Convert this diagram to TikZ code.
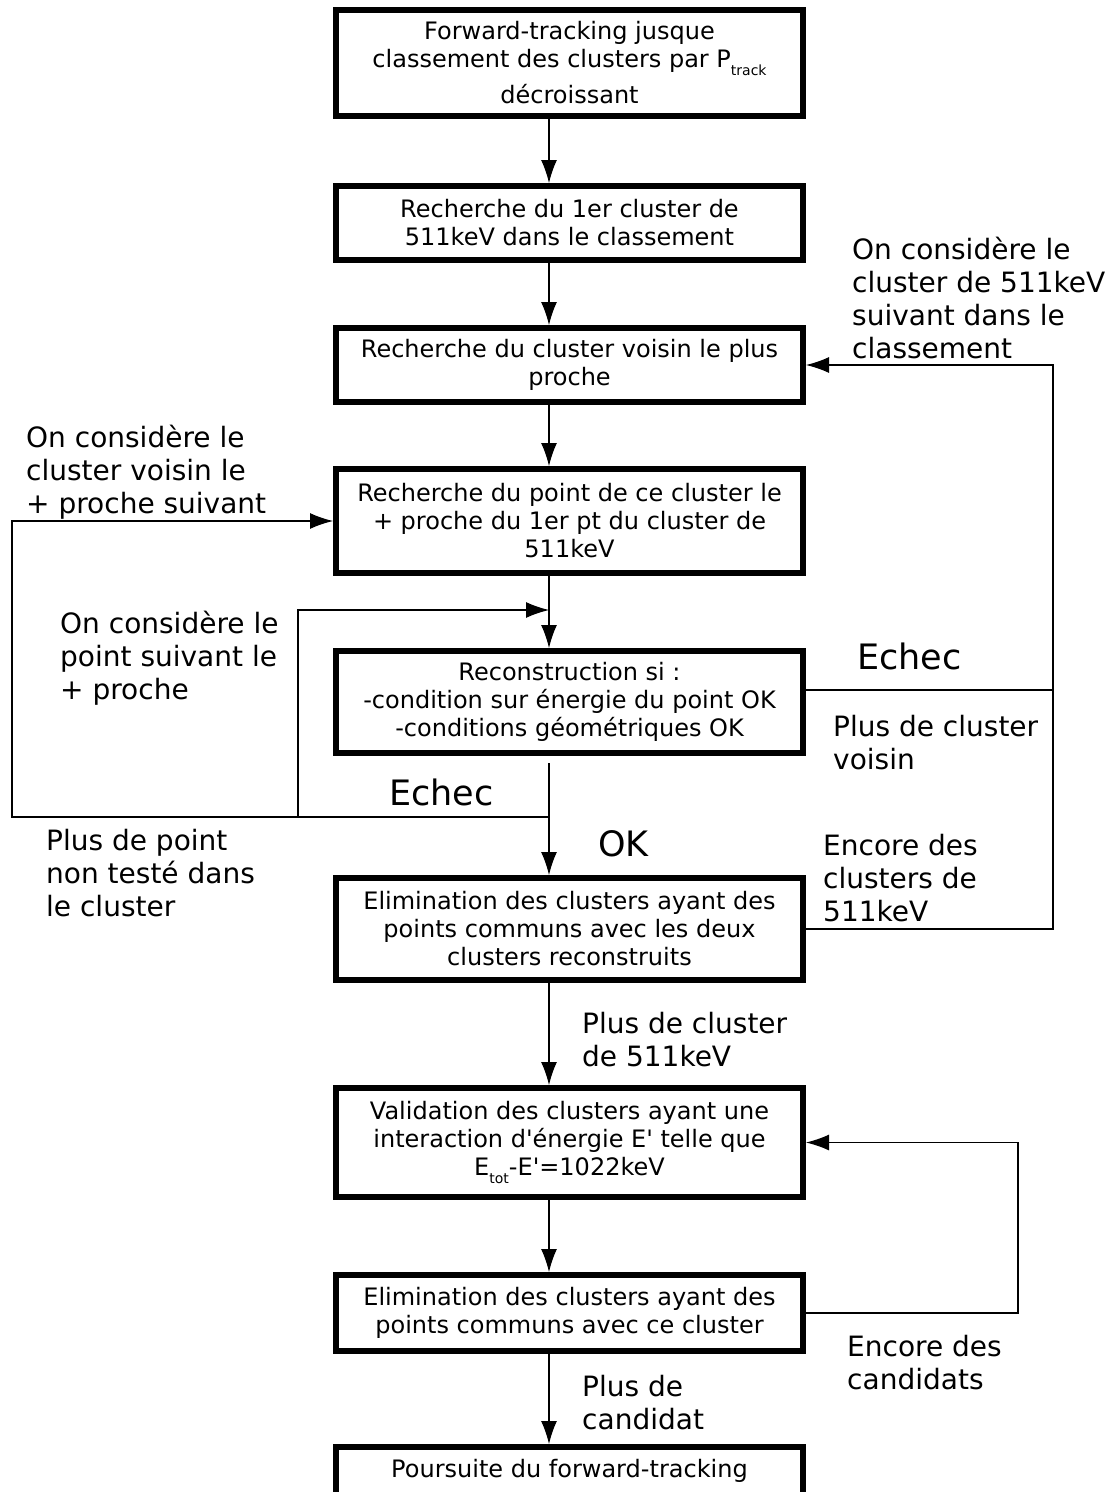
\documentclass[tikz,border=0pt]{standalone}
\usepackage{fontspec}
\setmainfont{DejaVu Sans}
\usetikzlibrary{positioning,calc,arrows.meta}
\newcommand{\lowsub}[1]{\raisebox{-8pt}{\fontsize{14}{14}\selectfont #1}}

\begin{document}
\begin{tikzpicture}[x=1pt, y=-1pt,
        font=\fontsize{24}{28}\selectfont,
        >={Latex[length=23pt,width=16pt]},
        block/.style={draw, line width=6pt, minimum width=467pt, inner sep=2pt, align=center},
        lbl/.style={anchor=base west, inner sep=0pt, align=left, font=\fontsize{28}{33}\selectfont},
        big/.style={anchor=base west, inner sep=0pt, font=\fontsize{35}{40}\selectfont},
        link/.style={line width=1.2pt}]
        \useasboundingbox (0,0) rectangle (1112,1492);
        \clip (0,0) rectangle (1112,1492);
        \node[block, minimum height=106pt] (FT) at (569.5,63)
            {Forward-tracking jusque\\classement des clusters par P\lowsub{track}\\[8pt]décroissant};
        \node[block, minimum height=74pt, below=64pt of FT] (R1)
            {Recherche du 1er cluster de\\511keV dans le classement};
        \node[block, minimum height=74pt, below=62pt of R1] (VOI)
            {Recherche du cluster voisin le plus\\proche};
        \node[block, minimum height=104pt, below=61pt of VOI] (PT)
            {Recherche du point de ce cluster le\\+ proche du 1er pt du cluster de\\511keV};
        \node[block, minimum height=102pt, below=72pt of PT] (REC)
            {Reconstruction si :\\-condition sur énergie du point OK\\-conditions géométriques OK};
        \node[block, minimum height=102pt, below=119pt of REC] (ELIM)
            {Elimination des clusters ayant des\\points communs avec les deux\\clusters reconstruits};
        \node[block, minimum height=109pt, below=102pt of ELIM] (VAL)
            {Validation des clusters ayant une\\interaction d\textquotesingle énergie E\textquotesingle{} telle que\\E\lowsub{tot}-E\textquotesingle=1022keV};
        \node[block, minimum height=76pt, below=72pt of VAL] (ELC)
            {Elimination des clusters ayant des\\points communs avec ce cluster};
        \node[block, minimum height=48pt, below=90pt of ELC] (POUR)
            {Poursuite du forward-tracking};
        \coordinate (ax) at (549,0);
        \coordinate (loopL) at (12,0);
        \coordinate (loopR) at (1053,0);
        \coordinate (loopR2) at (1018,0);
        \coordinate (okin) at (549,763);
        \coordinate (failL) at (549,817);
        \coordinate (nextpt) at (298,817);
        \coordinate (inpt) at (549,610);
        \coordinate (recR) at ($(REC.east)+(0,-12)$);
        \draw[link,->] (FT.south -| ax) -- (R1.north -| ax);
        \draw[link,->] (R1.south -| ax) -- (VOI.north -| ax);
        \draw[link,->] (VOI.south -| ax) -- (PT.north -| ax);
        \draw[link,->] (PT.south -| ax) -- (REC.north -| ax);
        \draw[link,->] (okin) -- (ELIM.north -| ax);
        \draw[link,->] (ELIM.south -| ax) -- (VAL.north -| ax);
        \draw[link,->] (VAL.south -| ax) -- (ELC.north -| ax);
        \draw[link,->] (ELC.south -| ax) -- (POUR.north -| ax);
        \draw[link,->] (failL) -| (PT.west -| loopL) -- (PT.west);
        \draw[link,->] (nextpt) |- (inpt);
        \draw[line width=2pt] (244,816.5) -- (298,816.5);
        \draw[link] (recR) -- (recR -| loopR);
        \draw[link,->] (ELIM.east) -| (VOI.east -| loopR) -- (VOI.east);
        \draw[link,->] (ELC.east) -| (VAL.east -| loopR2) -- (VAL.east);
        \node[lbl] (consA) at (852,358) {On considère le\\cluster de 511keV\\suivant dans le\\classement};
        \node[lbl] (consB) at (26,513) {On considère le\\cluster voisin le\\+ proche suivant};
        \node[lbl] (consC) at (60,699) {On considère le\\point suivant le\\+ proche};
        \node[big] (echecR) at (857,669) {Echec};
        \node[lbl] (plusV) at (833,769) {Plus de cluster\\voisin};
        \node[big] (echecL) at (389,805) {Echec};
        \node[lbl] (plusP) at (46,916) {Plus de point\\non testé dans\\le cluster};
        \node[big] (okL) at (598,856) {OK};
        \node[lbl] (encC) at (823,921) {Encore des\\clusters de\\511keV};
        \node[lbl] (plus511) at (582,1066) {Plus de cluster\\de 511keV};
        \node[lbl] (encCand) at (847,1389) {Encore des\\candidats};
        \node[lbl] (plusCand) at (582,1429) {Plus de\\candidat};
    \end{tikzpicture}
\end{document}
